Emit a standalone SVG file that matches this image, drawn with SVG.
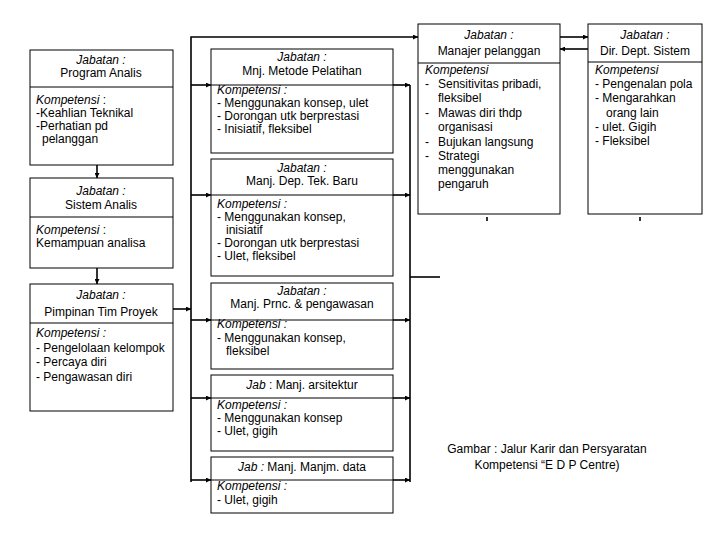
<svg xmlns="http://www.w3.org/2000/svg" width="720" height="540" viewBox="0 0 720 540">
<style>
.box{fill:#fff;stroke:#000;stroke-width:1}
.div{stroke:#000;stroke-width:1}
.c{stroke:#000;stroke-width:1.6;fill:none}
text{font-family:"Liberation Sans",Arial,sans-serif;font-size:12px;fill:#000}
.i{font-style:italic}
.m{text-anchor:middle}
</style>
<defs>
<marker id="ah" viewBox="0 0 8 8" refX="8" refY="4" markerWidth="5" markerHeight="5" orient="auto" markerUnits="userSpaceOnUse">
<path d="M0,0 L8,4 L0,8 z" fill="#000"/>
</marker>
</defs>
<rect width="720" height="540" fill="#fff"/>

<g id="connectors">
<line class="c" x1="97" y1="165" x2="97" y2="178" marker-end="url(#ah)"/>
<line class="c" x1="97" y1="268" x2="97" y2="284" marker-end="url(#ah)"/>
<line class="c" x1="173" y1="309" x2="191" y2="309" marker-end="url(#ah)"/>
<polyline class="c" points="191,482 191,37 418,37" marker-end="url(#ah)"/>
<line class="c" x1="191" y1="85" x2="211" y2="85" marker-end="url(#ah)"/>
<line class="c" x1="191" y1="195" x2="211" y2="195" marker-end="url(#ah)"/>
<line class="c" x1="191" y1="320" x2="211" y2="320" marker-end="url(#ah)"/>
<line class="c" x1="191" y1="398" x2="211" y2="398" marker-end="url(#ah)"/>
<line class="c" x1="191" y1="480" x2="211" y2="480" marker-end="url(#ah)"/>
<line class="c" x1="393" y1="85" x2="410" y2="85" marker-end="url(#ah)"/>
<line class="c" x1="393" y1="195" x2="410" y2="195" marker-end="url(#ah)"/>
<line class="c" x1="393" y1="320" x2="410" y2="320" marker-end="url(#ah)"/>
<line class="c" x1="393" y1="398" x2="410" y2="398" marker-end="url(#ah)"/>
<line class="c" x1="393" y1="480" x2="410" y2="480" marker-end="url(#ah)"/>
<line class="c" x1="410" y1="85" x2="410" y2="482"/>
<line class="c" x1="410" y1="277" x2="440" y2="277"/>
<line class="c" x1="560" y1="37" x2="588" y2="37" marker-end="url(#ah)"/>
<line class="c" x1="588" y1="49" x2="560" y2="49" marker-end="url(#ah)"/>
<line class="c" x1="487" y1="217" x2="487" y2="221"/>
<line class="c" x1="640" y1="217" x2="640" y2="221"/>
</g>

<g id="program-analis">
<rect class="box" x="30" y="50" width="143" height="115"/>
<line class="div" x1="30" y1="87" x2="173" y2="87"/>
<text class="m i" x="101" y="64">Jabatan :</text>
<text class="m" x="101" y="77">Program Analis</text>
<text x="36" y="104"><tspan class="i">Kompetensi</tspan> :</text>
<text x="36" y="117">-Keahlian Teknikal</text>
<text x="36" y="130">-Perhatian pd</text>
<text x="42" y="143">pelanggan</text>
</g>

<g id="sistem-analis">
<rect class="box" x="30" y="178" width="143" height="90"/>
<line class="div" x1="30" y1="217" x2="173" y2="217"/>
<text class="m i" x="101" y="195">Jabatan :</text>
<text class="m" x="101" y="209">Sistem Analis</text>
<text x="36" y="234"><tspan class="i">Kompetensi</tspan> :</text>
<text x="36" y="247">Kemampuan analisa</text>
</g>

<g id="pimpinan-tim-proyek">
<rect class="box" x="30" y="284" width="143" height="127"/>
<line class="div" x1="30" y1="323" x2="173" y2="323"/>
<text class="m i" x="101" y="299">Jabatan :</text>
<text class="m" x="101" y="316">Pimpinan Tim Proyek</text>
<text class="i" x="36" y="337">Kompetensi :</text>
<text x="36" y="352">- Pengelolaan kelompok</text>
<text x="36" y="366">- Percaya diri</text>
<text x="36" y="381">- Pengawasan diri</text>
</g>

<g id="mnj-metode-pelatihan">
<rect class="box" x="211" y="49" width="182" height="104"/>
<line class="div" x1="211" y1="85" x2="393" y2="85"/>
<text class="m i" x="302" y="61">Jabatan :</text>
<text class="m" x="302" y="75">Mnj. Metode Pelatihan</text>
<text class="i" x="217" y="94">Kompetensi :</text>
<text x="217" y="107">- Menggunakan konsep, ulet</text>
<text x="217" y="120">- Dorongan utk berprestasi</text>
<text x="217" y="133">- Inisiatif, fleksibel</text>
</g>

<g id="manj-dep-tek-baru">
<rect class="box" x="211" y="159" width="182" height="117"/>
<line class="div" x1="211" y1="195" x2="393" y2="195"/>
<text class="m i" x="302" y="172">Jabatan :</text>
<text class="m" x="302" y="185">Manj. Dep. Tek. Baru</text>
<text class="i" x="217" y="208">Kompetensi :</text>
<text x="217" y="221">- Menggunakan konsep,</text>
<text x="226" y="234">inisiatif</text>
<text x="217" y="247">- Dorongan utk berprestasi</text>
<text x="217" y="260">- Ulet, fleksibel</text>
</g>

<g id="manj-prnc-pengawasan">
<rect class="box" x="211" y="283" width="182" height="86"/>
<line class="div" x1="211" y1="320" x2="393" y2="320"/>
<text class="m i" x="302" y="295">Jabatan :</text>
<text class="m" x="302" y="308">Manj. Prnc. &amp; pengawasan</text>
<text class="i" x="217" y="328">Kompetensi :</text>
<text x="217" y="342">- Menggunakan konsep,</text>
<text x="226" y="355">fleksibel</text>
</g>

<g id="manj-arsitektur">
<rect class="box" x="211" y="375" width="182" height="76"/>
<line class="div" x1="211" y1="398" x2="393" y2="398"/>
<text class="m" x="302" y="389"><tspan class="i">Jab</tspan> : Manj. arsitektur</text>
<text class="i" x="217" y="409">Kompetensi :</text>
<text x="217" y="422">- Menggunakan konsep</text>
<text x="217" y="435">- Ulet, gigih</text>
</g>

<g id="manj-manjm-data">
<rect class="box" x="211" y="457" width="182" height="56"/>
<line class="div" x1="211" y1="480" x2="393" y2="480"/>
<text class="m" x="302" y="471"><tspan class="i">Jab :</tspan> Manj. Manjm. data</text>
<text class="i" x="217" y="490">Kompetensi :</text>
<text x="217" y="504">- Ulet, gigih</text>
</g>

<g id="manajer-pelanggan">
<rect class="box" x="418" y="24" width="142" height="190"/>
<line class="div" x1="418" y1="63" x2="560" y2="63"/>
<text class="m i" x="489" y="39">Jabatan :</text>
<text class="m" x="489" y="55">Manajer pelanggan</text>
<text class="i" x="425" y="74">Kompetensi</text>
<text x="425" y="88">-</text><text x="438" y="88">Sensitivitas pribadi,</text>
<text x="438" y="102">fleksibel</text>
<text x="425" y="117">-</text><text x="438" y="117">Mawas diri thdp</text>
<text x="438" y="131">organisasi</text>
<text x="425" y="146">-</text><text x="438" y="146">Bujukan langsung</text>
<text x="425" y="160">-</text><text x="438" y="160">Strategi</text>
<text x="438" y="174">menggunakan</text>
<text x="438" y="188">pengaruh</text>
</g>

<g id="dir-dept-sistem">
<rect class="box" x="588" y="24" width="114" height="190"/>
<line class="div" x1="588" y1="62" x2="702" y2="62"/>
<text class="m i" x="645" y="39">Jabatan :</text>
<text class="m" x="645" y="55">Dir. Dept. Sistem</text>
<text class="i" x="595" y="74">Kompetensi</text>
<text x="595" y="88">- Pengenalan pola</text>
<text x="595" y="102">- Mengarahkan</text>
<text x="606" y="117">orang lain</text>
<text x="595" y="131">- ulet. Gigih</text>
<text x="595" y="145">- Fleksibel</text>
</g>

<g id="caption">
<text class="m" x="547" y="453">Gambar : Jalur Karir dan Persyaratan</text>
<text class="m" x="547" y="469">Kompetensi “E D P Centre)</text>
</g>
</svg>
